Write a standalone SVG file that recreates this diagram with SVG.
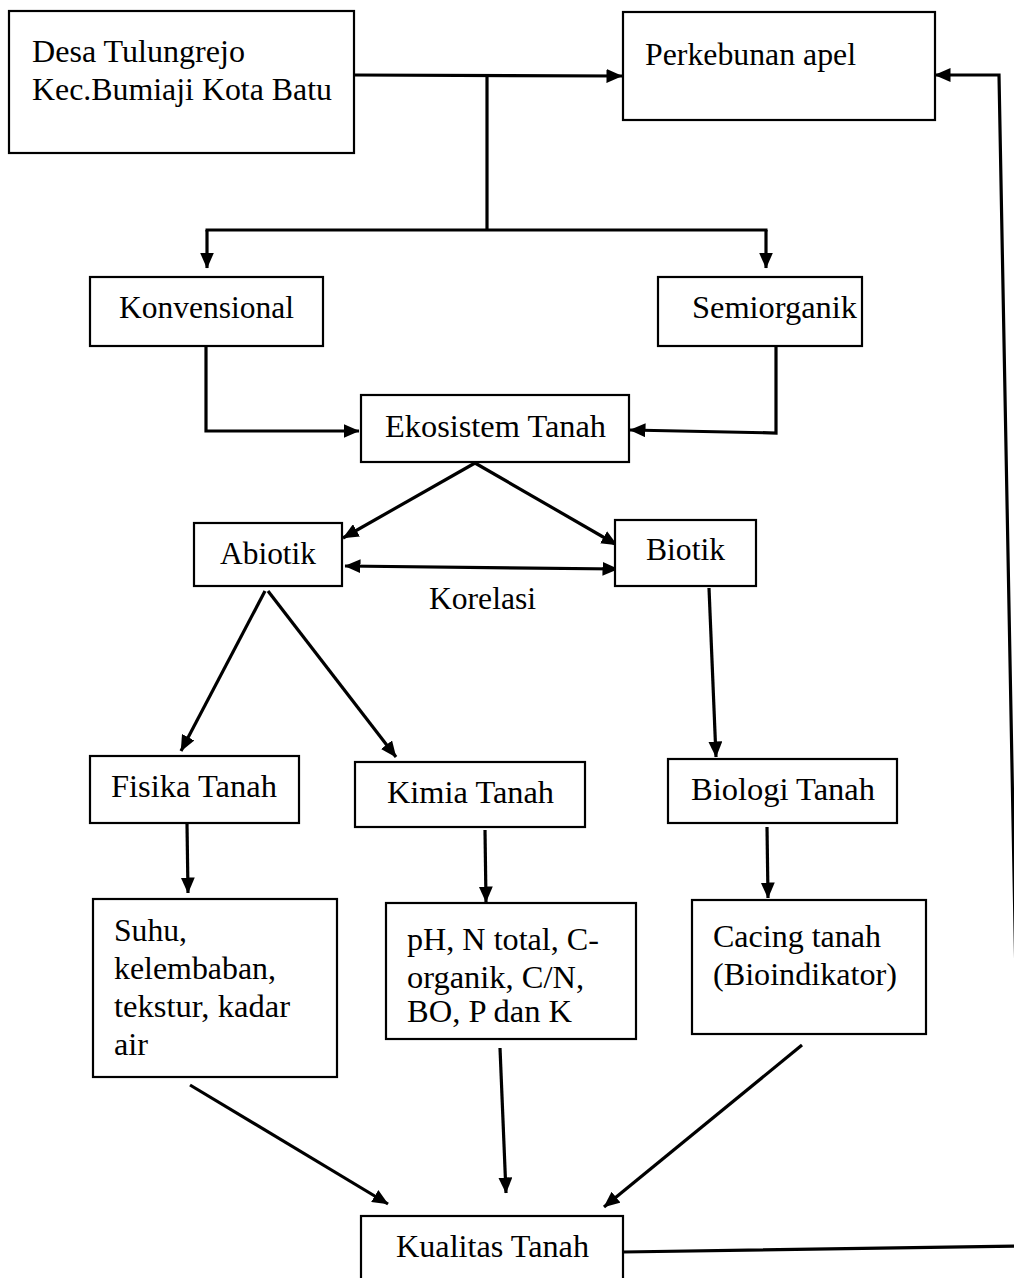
<svg xmlns="http://www.w3.org/2000/svg" width="1014" height="1278" viewBox="0 0 1014 1278">
<style>
.box{fill:#fff;stroke:#000;stroke-width:2.2}
.t{font-family:"Liberation Serif","Times New Roman",serif;font-size:32px;fill:#000}
.c{fill:none;stroke:#000;stroke-width:3.2;stroke-linejoin:miter}
</style>
<defs>
<marker id="ah" viewBox="0 0 16 14" markerWidth="16" markerHeight="14" refX="15.5" refY="7" orient="auto-start-reverse" markerUnits="userSpaceOnUse">
<path d="M0,0 L16,7 L0,14 z" fill="#000"/>
</marker>
</defs>
<rect width="1014" height="1278" fill="#fff"/>
<g id="connectors">
<path class="c" d="M354,75 L622,76" marker-end="url(#ah)"/>
<path class="c" d="M487,75 V230"/>
<path class="c" d="M205.5,230 H767.5"/>
<path class="c" d="M207,230 V268" marker-end="url(#ah)"/>
<path class="c" d="M766,230 V268" marker-end="url(#ah)"/>
<path class="c" d="M206,346 V431 H359" marker-end="url(#ah)"/>
<path class="c" d="M776,347 V433 L630,430" marker-end="url(#ah)"/>
<path class="c" d="M475,463 L343,538" marker-end="url(#ah)"/>
<path class="c" d="M475,463 L617,545" marker-end="url(#ah)"/>
<path class="c" d="M345,566 L618,569" marker-start="url(#ah)" marker-end="url(#ah)"/>
<path class="c" d="M265,591 L181,751" marker-end="url(#ah)"/>
<path class="c" d="M268,591 L396,757" marker-end="url(#ah)"/>
<path class="c" d="M709,588 L716,757" marker-end="url(#ah)"/>
<path class="c" d="M187,824 L188,893" marker-end="url(#ah)"/>
<path class="c" d="M485,830 L486,902" marker-end="url(#ah)"/>
<path class="c" d="M767,827 L768,898" marker-end="url(#ah)"/>
<path class="c" d="M190,1085 L388,1204" marker-end="url(#ah)"/>
<path class="c" d="M500,1048 L506,1193" marker-end="url(#ah)"/>
<path class="c" d="M802,1045 L604,1207" marker-end="url(#ah)"/>
<path class="c" d="M623,1252 L1021,1246 L999,75 L935,75" marker-end="url(#ah)"/>
</g>
<g id="desa">
<rect class="box" x="9" y="11" width="345" height="142"/>
<text class="t" x="32" y="62" textLength="213" lengthAdjust="spacingAndGlyphs">Desa Tulungrejo</text>
<text class="t" x="32" y="100" textLength="300" lengthAdjust="spacingAndGlyphs">Kec.Bumiaji Kota Batu</text>
</g>
<g id="perkebunan">
<rect class="box" x="623" y="12" width="312" height="108"/>
<text class="t" x="645" y="65" textLength="211" lengthAdjust="spacingAndGlyphs">Perkebunan apel</text>
</g>
<g id="konvensional">
<rect class="box" x="90" y="277" width="233" height="69"/>
<text class="t" x="119" y="318" textLength="175" lengthAdjust="spacingAndGlyphs">Konvensional</text>
</g>
<g id="semiorganik">
<rect class="box" x="658" y="277" width="204" height="69"/>
<text class="t" x="692" y="318" textLength="165" lengthAdjust="spacingAndGlyphs">Semiorganik</text>
</g>
<g id="ekosistem">
<rect class="box" x="361" y="395" width="268" height="67"/>
<text class="t" x="385" y="437" textLength="221" lengthAdjust="spacingAndGlyphs">Ekosistem Tanah</text>
</g>
<g id="abiotik">
<rect class="box" x="194" y="523" width="148" height="63"/>
<text class="t" x="220" y="564" textLength="96" lengthAdjust="spacingAndGlyphs">Abiotik</text>
</g>
<g id="biotik">
<rect class="box" x="615" y="520" width="141" height="66"/>
<text class="t" x="646" y="560" textLength="79" lengthAdjust="spacingAndGlyphs">Biotik</text>
</g>
<g id="korelasi">
<text class="t" x="429" y="609" textLength="107" lengthAdjust="spacingAndGlyphs">Korelasi</text>
</g>
<g id="fisika">
<rect class="box" x="90" y="756" width="209" height="67"/>
<text class="t" x="111" y="797" textLength="166" lengthAdjust="spacingAndGlyphs">Fisika Tanah</text>
</g>
<g id="kimia">
<rect class="box" x="355" y="762" width="230" height="65"/>
<text class="t" x="387" y="803" textLength="167" lengthAdjust="spacingAndGlyphs">Kimia Tanah</text>
</g>
<g id="biologi">
<rect class="box" x="668" y="759" width="229" height="64"/>
<text class="t" x="691" y="800" textLength="184" lengthAdjust="spacingAndGlyphs">Biologi Tanah</text>
</g>
<g id="suhu">
<rect class="box" x="93" y="899" width="244" height="178"/>
<text class="t" x="114" y="941" textLength="73" lengthAdjust="spacingAndGlyphs">Suhu,</text>
<text class="t" x="114" y="979" textLength="162" lengthAdjust="spacingAndGlyphs">kelembaban,</text>
<text class="t" x="114" y="1017" textLength="176" lengthAdjust="spacingAndGlyphs">tekstur, kadar</text>
<text class="t" x="114" y="1055" textLength="34" lengthAdjust="spacingAndGlyphs">air</text>
</g>
<g id="kimia-param">
<rect class="box" x="386" y="903" width="250" height="136"/>
<text class="t" x="407" y="950" textLength="192" lengthAdjust="spacingAndGlyphs">pH, N total, C-</text>
<text class="t" x="407" y="988" textLength="177" lengthAdjust="spacingAndGlyphs">organik, C/N,</text>
<text class="t" x="407" y="1022" textLength="165" lengthAdjust="spacingAndGlyphs">BO, P dan K</text>
</g>
<g id="cacing">
<rect class="box" x="692" y="900" width="234" height="134"/>
<text class="t" x="713" y="947" textLength="168" lengthAdjust="spacingAndGlyphs">Cacing tanah</text>
<text class="t" x="713" y="985" textLength="184" lengthAdjust="spacingAndGlyphs">(Bioindikator)</text>
</g>
<g id="kualitas">
<rect class="box" x="361" y="1216" width="262" height="70"/>
<text class="t" x="396" y="1257" textLength="193" lengthAdjust="spacingAndGlyphs">Kualitas Tanah</text>
</g>
</svg>
